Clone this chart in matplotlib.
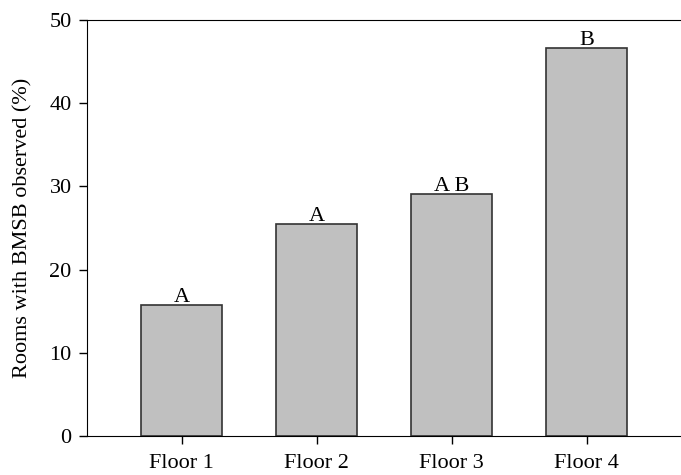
"""Percentage of rooms with BMSB observed, by floor."""

import matplotlib.pyplot as plt

floors = ["Floor 1", "Floor 2", "Floor 3", "Floor 4"]
pct_rooms = [15.7, 25.5, 29.1, 46.6]
letters = ["A", "A", "A B", "B"]

BAR_COLOR = "#c0c0c0"
EDGE_COLOR = "#333333"

plt.rcParams["font.family"] = ["Liberation Serif", "DejaVu Serif"]

fig = plt.figure(figsize=(6.81, 4.75), dpi=100)
ax = fig.add_axes([87 / 681, 1 - 436 / 475, 594 / 681, 416 / 475])

x = range(len(floors))
ax.bar(x, pct_rooms, width=0.6, color=BAR_COLOR, edgecolor=EDGE_COLOR, linewidth=1.2)
for xi, val, lab in zip(x, pct_rooms, letters):
    ax.text(xi, val - 0.2, lab, ha="center", va="bottom", fontsize=16)

ax.set_xlim(-0.7, 3.7)
ax.set_ylim(0, 50)
ax.set_xticks(list(x))
ax.set_xticklabels(floors)
ax.set_yticks(range(0, 51, 10))
ax.tick_params(axis="both", labelsize=16, direction="out", length=6, width=1)
ax.tick_params(axis="y", pad=5)
ax.tick_params(axis="x", pad=7)
ax.spines["right"].set_visible(False)
ax.set_ylabel("Rooms with BMSB observed (%)", fontsize=16, labelpad=12)

fig.savefig("out.png", dpi=100)
